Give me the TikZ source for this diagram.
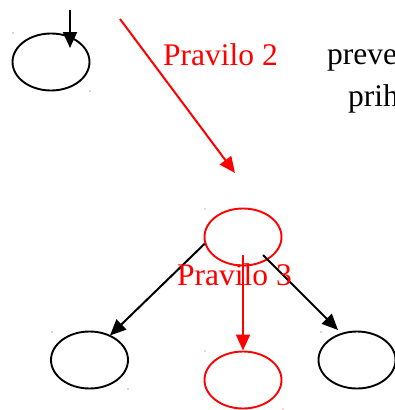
\documentclass[tikz,border=0pt]{standalone}
\usepackage{fontspec}
\setmainfont{Liberation Serif}
\usetikzlibrary{arrows.meta,shapes.geometric,calc}
\begin{document}
\begin{tikzpicture}[x=1pt,y=-1pt,
  state/.style={draw,line width=1.9pt,ellipse,minimum width=77pt,minimum height=57pt,inner sep=0pt},
  rstate/.style={state,draw=red},
  conn/.style={line width=2pt,-{Triangle[length=16pt,width=14pt]}},
  rconn/.style={conn,draw=red,fill=red},
  lbl/.style={font=\fontsize{31.5}{38}\selectfont,anchor=base west,inner sep=0pt},
  corner/.style={inner sep=0pt,minimum size=1.2pt,circle,fill=#1}]
\useasboundingbox (0,0) rectangle (395,410);
\clip (0,0) rectangle (395,410);

% states
\node[state]  (top) at (51,62) {};
\node[rstate] (mid) at (243,237) {};
\node[state]  (bl)  at (89.5,360) {};
\node[rstate] (bm)  at (243,380) {};
\node[state]  (br)  at (357,360) {};

% small corner marks of the state frames
\node[corner=black!70] (c1) at (13,33) {};
\node[corner=black!70] (c2) at (90,91) {};
\node[corner=red!80]   (c3) at (205,209) {};
\node[corner=black!70] (c4) at (52,332) {};
\node[corner=black!70] (c5) at (128,389) {};
\node[corner=red!80]   (c6) at (205,351) {};
\node[corner=red!80]   (c7) at (283,409) {};
\node[corner=black!70] (c8) at (321,332) {};

% free ends
\coordinate (in)   at (70,10);
\coordinate (inE)  at (70,48);
\coordinate (r2s)  at (120,19);
\coordinate (r2e)  at (235,173);

% connectors
\draw[conn] (in) -- (inE);
\draw[rconn] (r2s) -- (r2e);
\draw[conn] (mid.190) -- ($(bl.center)+(20.5,-24.5)$);
\draw[conn] ($(mid.center)+(20,18)$) -- ($(br.center)+(-19,-30)$);
\draw[rconn] ($(mid.center)+(0,18)$) -- (bm.north);

% labels
\node[lbl,text=red] (p2) at (163,65) {Pravilo 2};
\node[lbl,text=red] (p3) at (177,285) {Pravilo 3};
\node[lbl] (t1) at (327,64) {preve};
\node[lbl] (t2) at (348,106) {prih};
\end{tikzpicture}
\end{document}
